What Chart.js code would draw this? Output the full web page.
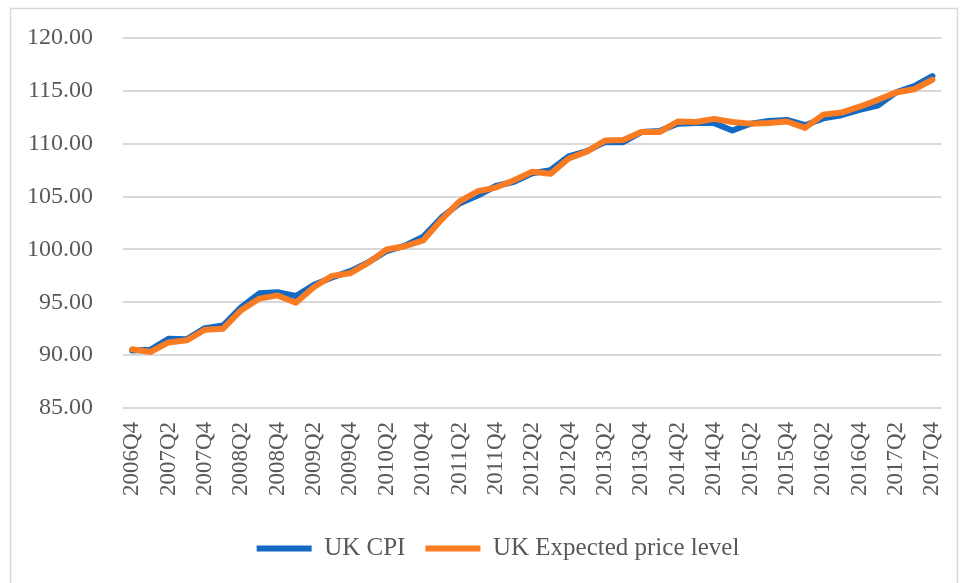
<!DOCTYPE html>
<html>
<head>
<meta charset="utf-8">
<script src="https://cdn.jsdelivr.net/npm/chart.js@4/dist/chart.umd.min.js"></script>
<style>
  html, body { margin: 0; padding: 0; background: #fff; }
  #wrap { width: 960px; height: 583px; position: relative; }
</style>
</head>
<body>
<div id="wrap"><canvas id="priceChart"></canvas></div>
<script>
// trimestres 2006Q4 -> 2017Q4
const quarters = [
  '2006Q4',
  '2007Q1', '2007Q2', '2007Q3', '2007Q4',
  '2008Q1', '2008Q2', '2008Q3', '2008Q4',
  '2009Q1', '2009Q2', '2009Q3', '2009Q4',
  '2010Q1', '2010Q2', '2010Q3', '2010Q4',
  '2011Q1', '2011Q2', '2011Q3', '2011Q4',
  '2012Q1', '2012Q2', '2012Q3', '2012Q4',
  '2013Q1', '2013Q2', '2013Q3', '2013Q4',
  '2014Q1', '2014Q2', '2014Q3', '2014Q4',
  '2015Q1', '2015Q2', '2015Q3', '2015Q4',
  '2016Q1', '2016Q2', '2016Q3', '2016Q4',
  '2017Q1', '2017Q2', '2017Q3', '2017Q4'
];

const ukCpi = [
  90.45, 90.5, 91.55, 91.5, 92.55, 92.8, 94.55, 95.85, 95.95, 95.6,
  96.65, 97.35, 97.95, 98.8, 99.85, 100.35, 101.2, 103.0, 104.35, 105.1,
  106.0, 106.4, 107.2, 107.5, 108.8, 109.3, 110.15, 110.15, 111.1, 111.2,
  111.9, 111.95, 111.95, 111.25, 111.9, 112.15, 112.25, 111.75, 112.4, 112.7,
  113.2, 113.6, 114.85, 115.45, 116.4
];

const ukExpected = [
  90.55, 90.3, 91.2, 91.4, 92.4, 92.5, 94.25, 95.35, 95.65, 94.95,
  96.45, 97.5, 97.75, 98.75, 100.0, 100.3, 100.85, 102.8, 104.55, 105.5,
  105.85, 106.55, 107.35, 107.15, 108.6, 109.25, 110.3, 110.35, 111.1, 111.1,
  112.1, 112.05, 112.35, 112.05, 111.9, 111.95, 112.1, 111.5, 112.75, 112.95,
  113.5, 114.15, 114.85, 115.15, 116.05
];

const yTicks = [85, 90, 95, 100, 105, 110, 115, 120];

const fontFamily = '"Liberation Serif", "DejaVu Serif", serif';
const textColor = '#595959';

// cadre gris autour du graphique
const frame = {
  id: 'frame',
  beforeDraw(chart) {
    const c = chart.ctx;
    c.save();
    c.strokeStyle = '#d9d9d9';
    c.lineWidth = 1.5;
    c.strokeRect(10.5, 8.5, 947, 580);
    c.restore();
  }
};

// la légende est un peu décalée vers la droite dans l'original
const legendShift = {
  id: 'legendShift',
  afterLayout(chart) {
    chart.legend.left += 18;
    chart.legend.right += 18;
  }
};

const ctx = document.getElementById('priceChart').getContext('2d');

const chart = new Chart(ctx, {
  type: 'line',
  data: {
    labels: quarters,
    datasets: [{
      label: 'UK CPI',
      data: ukCpi,
      borderColor: '#1469c4',
      backgroundColor: '#1469c4',
      borderWidth: 6,
      pointRadius: 0,
      tension: 0,
      borderJoinStyle: 'round',
      borderCapStyle: 'round',
      order: 1
    },
    {
      label: 'UK Expected price level',
      data: ukExpected,
      borderColor: '#f97b22',
      backgroundColor: '#f97b22',
      borderWidth: 6,
      pointRadius: 0,
      tension: 0,
      borderJoinStyle: 'round',
      borderCapStyle: 'round',
      order: 0
    }]
  },
  options: {
    responsive: true,
    maintainAspectRatio: false,
    animation: false,
    layout: {
      padding: { left: 0, right: 0, top: 38, bottom: 12 }
    },
    plugins: {
      tooltip: { enabled: false },
      legend: {
        position: 'bottom',
        labels: {
          font: { family: fontFamily, size: 25 },
          color: textColor,
          boxWidth: 55,
          boxHeight: 6,
          padding: 20,
          sort: (a, b) => a.datasetIndex - b.datasetIndex,
          generateLabels: (c) => Chart.defaults.plugins.legend.labels.generateLabels(c)
            .map(item => ({ ...item, lineWidth: 0 }))
        }
      }
    },
    scales: {
      x: {
        offset: true,
        grid: {
          display: true,
          drawOnChartArea: false,
          color: 'rgba(0,0,0,0)',
          tickColor: 'rgba(0,0,0,0)',
          tickLength: 14
        },
        border: { display: false },
        ticks: {
          autoSkip: false,
          minRotation: 90,
          maxRotation: 90,
          padding: 0,
          color: textColor,
          font: { family: fontFamily, size: 23 },
          callback: function (value, index) {
            return index % 2 === 0 ? quarters[index] : '';
          }
        },
        afterFit: (scale) => { scale.height = 108; }
      },
      y: {
        min: yTicks[0],
        max: yTicks[yTicks.length - 1],
        afterBuildTicks: (scale) => { scale.ticks = yTicks.map(v => ({ value: v })); },
        grid: { color: '#d9d9d9', lineWidth: 2, drawTicks: true, tickLength: 28, tickColor: 'rgba(0,0,0,0)' },
        border: { display: false },
        ticks: {
          padding: 2,
          color: textColor,
          font: { family: fontFamily, size: 24 },
          callback: (v) => Number(v).toFixed(2)
        },
        afterFit: (scale) => { scale.width = 123; }
      }
    }
  },
  plugins: [frame, legendShift]
});
</script>
</body>
</html>
